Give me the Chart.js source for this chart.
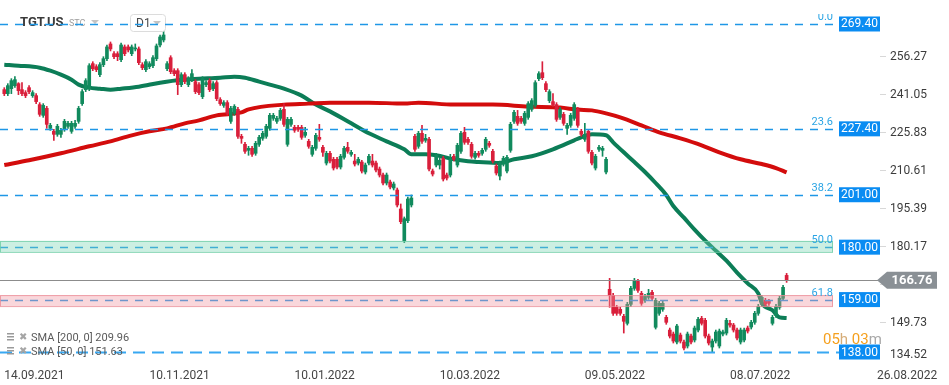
<!DOCTYPE html>
<html><head><meta charset="utf-8">
<script src="https://cdn.jsdelivr.net/npm/chart.js@4.4.1/dist/chart.umd.min.js"></script>
<style>html,body{margin:0;padding:0;background:#fff;}canvas{display:block}</style>
</head><body>
<canvas id="c" width="949" height="385"></canvas>
<script>
// ---- data (TGT.US, D1) ----
const openP = [
243.1,241.5,243.5,244.7,245.5,243.1,241.9,243.9,240.7,240.7,
237.1,232.8,235.6,227.6,226.4,225.2,225.2,227.2,228.4,226.4,
228.4,230.4,237.5,243.1,243.5,253.5,252.3,249.1,253.1,255.5,
261.4,257.5,257.5,255.1,260.2,260.2,257.5,259.4,259.4,253.1,
251.1,252.3,252.7,255.5,261.0,263.0,251.5,255.9,250.7,250.7,
245.1,249.1,245.1,247.1,246.3,245.1,240.3,245.1,246.7,243.5,
245.9,239.1,236.8,237.9,230.4,233.6,235.2,224.4,221.2,218.8,
219.6,217.6,221.2,223.6,224.4,227.6,231.6,230.4,231.6,235.2,
221.2,229.2,228.0,228.0,228.0,224.8,222.4,217.2,219.6,224.0,
220.0,213.7,217.6,215.2,215.2,212.1,216.0,220.0,217.2,214.5,
213.7,214.1,210.1,213.7,214.5,213.7,211.3,208.9,205.7,206.1,
203.7,202.9,195.3,182.6,190.6,196.9,224.4,220.4,225.6,222.8,
223.2,210.5,212.9,212.9,215.6,208.9,208.9,216.4,212.9,218.4,
226.0,223.2,221.2,216.0,217.6,217.6,219.2,221.6,218.4,212.5,
208.5,213.3,210.5,218.8,230.4,232.4,231.6,229.6,232.0,235.2,
236.8,247.5,249.9,245.5,238.7,238.3,237.1,232.0,233.2,227.6,
228.8,231.6,235.2,226.4,223.2,226.4,218.0,211.7,219.2,218.8,
210.1,163.1,160.7,155.9,155.1,152.3,149.5,157.1,163.5,166.3,
161.5,158.7,159.9,161.9,147.9,153.5,155.1,151.9,146.8,145.2,
142.0,144.8,142.0,140.4,144.4,142.8,146.8,151.5,150.7,144.4,
140.0,142.4,140.4,145.2,145.6,149.5,148.8,146.8,142.0,142.8,
147.6,148.0,149.9,153.5,157.1,158.7,158.3,149.5,152.7,155.9,
159.5,168.7];
const highP = [
243.9,245.5,247.5,248.3,245.9,245.9,242.7,244.7,242.7,241.5,
237.9,237.5,236.4,229.6,227.2,229.2,227.6,231.2,230.4,230.4,
230.8,236.4,243.1,247.5,253.5,254.3,253.1,253.9,256.3,261.0,
262.2,258.3,258.3,261.8,261.0,261.0,261.0,261.4,260.2,253.9,
255.1,254.3,256.7,261.4,265.0,269.4,254.3,256.7,251.5,251.5,
249.9,249.9,248.3,251.1,247.1,245.9,248.3,246.7,247.5,246.3,
246.7,239.9,238.7,238.7,236.4,237.1,236.0,225.2,222.0,220.4,
220.4,222.4,224.8,226.4,229.2,233.6,233.6,232.4,235.6,237.5,
232.0,232.0,228.8,228.8,228.8,228.0,223.2,220.8,225.6,229.2,
220.8,218.4,218.4,216.0,216.0,217.2,220.4,222.0,218.8,217.2,
216.0,214.8,213.7,217.2,217.2,214.5,212.1,209.7,209.7,206.9,
206.1,203.7,197.3,192.1,200.1,200.9,225.2,226.4,228.8,225.2,
224.0,211.3,217.6,215.6,216.4,209.7,217.2,217.2,221.6,226.4,
228.0,224.0,222.0,218.4,218.4,219.6,224.0,222.4,219.2,213.3,
214.5,216.4,216.8,230.0,234.8,234.8,232.4,234.4,238.3,239.5,
246.7,250.3,254.3,246.3,243.1,241.5,237.9,236.0,234.0,229.6,
233.6,237.9,236.0,227.2,229.6,227.2,218.8,217.2,220.8,220.4,
216.0,167.5,161.5,156.7,155.9,153.1,157.9,164.3,167.5,167.1,
162.3,161.1,163.1,162.7,159.5,158.3,158.3,152.7,147.6,146.0,
149.1,145.6,142.8,146.0,145.2,148.4,151.9,152.3,151.5,145.2,
143.2,146.8,147.2,146.8,151.5,150.7,149.5,147.6,147.6,147.6,
148.4,150.7,154.3,157.1,160.7,159.5,159.1,152.7,157.1,160.3,
164.7,169.5];
const lowP = [
240.7,240.7,241.5,244.0,241.1,240.7,239.9,241.5,240.0,237.5,
232.4,232.0,227.6,226.8,222.8,224.4,224.0,226.4,227.6,225.6,
227.6,229.6,236.8,242.3,242.7,250.7,250.3,248.3,252.3,254.7,
258.6,255.5,254.7,254.3,256.7,258.2,256.7,258.6,253.1,251.1,
250.3,251.5,251.9,254.7,260.2,262.2,250.7,249.5,248.7,241.1,
244.3,245.5,244.3,246.3,241.5,241.1,239.5,244.3,242.3,242.7,
238.7,236.8,236.0,232.8,229.6,232.8,223.6,221.6,217.6,216.8,
216.4,216.8,220.4,222.8,223.6,226.8,230.8,229.6,230.8,228.4,
220.4,228.4,226.0,226.4,223.2,224.0,219.6,216.4,218.8,222.4,
216.4,212.9,213.7,210.9,211.3,211.3,215.2,217.6,216.4,212.5,
212.9,209.7,209.3,212.9,212.1,210.1,208.1,204.9,204.9,203.3,
202.9,196.1,189.4,181.8,189.8,196.1,218.4,219.6,221.6,222.0,
210.5,208.5,212.1,211.3,206.5,206.9,208.1,214.5,212.1,217.6,
221.2,221.2,215.6,215.2,216.0,216.8,218.4,220.0,213.7,208.9,
206.9,212.5,209.7,218.0,229.6,228.8,229.6,228.8,231.2,234.4,
236.0,246.7,247.1,242.3,237.9,236.4,230.4,231.2,228.8,225.2,
228.0,230.8,228.0,224.4,222.4,217.6,212.9,210.9,218.4,216.4,
209.3,155.9,152.7,152.7,152.7,145.6,148.8,156.3,162.7,161.9,
156.7,157.9,159.1,158.7,147.2,152.7,154.3,149.1,143.6,141.6,
141.2,141.6,138.8,139.6,141.2,142.0,146.0,148.8,143.6,140.8,
138.0,141.6,139.6,144.4,144.8,148.0,146.0,142.8,141.2,142.0,
145.6,147.2,149.1,152.7,156.3,156.3,156.7,148.8,151.9,155.1,
158.7,165.9];
const closeP = [
241.5,244.7,246.7,247.1,242.7,241.5,240.7,242.3,241.9,238.3,
233.2,236.8,229.2,228.8,225.2,228.4,226.8,230.4,229.6,229.6,
229.6,235.6,242.3,246.7,252.7,251.5,251.1,253.1,255.5,260.2,
259.4,256.3,256.3,261.0,257.5,259.0,260.2,259.8,253.9,251.9,
254.3,253.5,255.9,260.6,264.2,265.0,253.5,250.3,249.5,245.1,
249.1,246.3,247.5,249.5,242.3,241.9,247.5,245.9,243.1,245.5,
239.5,237.5,237.9,233.6,235.6,236.4,224.4,223.6,218.4,219.6,
217.2,221.6,224.0,225.6,228.4,232.8,232.8,231.6,234.8,229.2,
231.2,231.2,226.8,227.2,224.0,226.0,220.4,220.0,224.8,223.2,
218.0,217.6,214.5,211.7,212.1,216.4,219.6,218.4,218.0,213.3,
215.2,210.5,212.9,216.4,212.9,210.9,208.9,205.7,208.9,204.1,
205.3,196.9,190.2,191.4,199.3,199.7,219.2,225.6,222.4,223.6,
211.3,209.3,216.8,214.8,207.3,207.7,215.2,215.2,220.8,225.6,
222.0,222.0,216.4,217.6,216.8,218.8,223.2,220.8,214.5,209.7,
213.7,215.6,216.0,229.2,234.0,229.6,230.4,233.6,237.5,238.7,
245.9,249.5,247.9,243.1,242.3,237.1,231.2,235.2,229.6,228.8,
232.8,237.1,228.8,225.2,225.2,218.4,213.7,216.4,220.0,219.6,
215.2,160.7,153.5,153.5,153.5,150.3,157.1,163.5,166.7,162.7,
157.5,160.3,161.5,159.5,158.7,157.5,157.5,149.9,144.4,142.4,
148.4,142.4,139.6,145.2,142.0,147.6,151.1,149.5,144.4,141.6,
142.4,146.0,146.4,146.0,150.7,148.8,146.8,143.6,146.8,146.8,
146.4,149.9,153.5,156.3,159.9,157.1,157.5,151.9,156.3,159.5,
163.9,166.76];

const sma200Idx = [0,7,16,24,30,36,41,46,51,55,60,67,69,79,86,92,103,113,117,127,138,148,157,162,166,170,174,180,185,191,197,202,208,214,218,221];
const sma200 = [212.9,214.8,217.6,220.4,222.4,224.8,226.4,227.6,229.6,230.8,232.8,234.0,235.2,237.1,237.5,237.9,237.9,237.5,237.9,237.1,237.1,236.3,235.9,235.1,234.8,233.6,232.0,228.8,226.0,223.6,220.8,218.0,215.2,213.3,211.7,209.96];
const sma50Idx = [0,4,10,13,16,19,21,24,27,30,33,38,44,50,55,61,65,68,72,75,79,84,88,92,98,103,108,113,115,119,122,127,131,134,140,144,149,155,161,163,166,170,172,175,178,181,184,187,189,192,195,198,201,204,207,210,213,214,217,219,221];
const sma50 = [253.1,252.7,251.9,250.7,249.1,247.1,245.1,243.9,243.5,243.1,243.5,244.3,245.9,247.1,247.5,247.9,248.3,247.9,246.3,245.1,243.5,240.7,237.1,234.4,229.6,225.6,222.4,219.2,217.2,217.2,216.8,215.2,214.4,214.1,213.7,215.2,216.4,219.2,222.8,224.0,225.2,224.8,222.0,218.0,214.1,210.1,205.7,200.9,196.5,191.8,187.0,182.6,178.6,174.6,169.8,165.5,161.5,157.5,154.7,151.9,151.63];

const xTickIdx = [0,41,82,123,164,205,246.5];
const xTickLabels = ['14.09.2021','10.11.2021','10.01.2022','10.03.2022','09.05.2022','08.07.2022','26.08.2022'];
const yTickValues = [256.27,241.05,225.83,210.61,195.39,180.17,164.95,149.73,134.52];
const levelPrices = [269.40,227.40,201.00,180.00,159.00,138.00];
const levelFibs = ['0.0','23.6','38.2','50.0','61.8',''];
const greenZone = [178.1,182.5];
const redZone = [156.4,160.8];
const lastPrice = 166.76;
const legendRows = ['SMA [200, 0] 209.96','SMA [50, 0] 151.63'];

// ---- chart ----
const GREEN = '#118a5d', RED = '#d91f3b';
const candleColors = openP.map((o,i)=> closeP[i] >= o ? GREEN : RED);
const bodies = openP.map((o,i)=>({x:i, y:[o, closeP[i]]}));
const wicks = openP.map((o,i)=>({x:i, y:[lowP[i], highP[i]]}));

Chart.defaults.font.family = 'Roboto';

const overlay = {
  id:'overlay',
  afterDatasetsDraw(chart){
    const {ctx, scales:{x, y}} = chart;
    ctx.save();
    // header
    ctx.fillStyle = '#fff';
    ctx.strokeStyle = '#dcdcdc'; ctx.lineWidth = 1;
    ctx.beginPath(); ctx.roundRect(130.5,14.5,35,17,3); ctx.fill(); ctx.stroke();
    ctx.textBaseline = 'middle'; ctx.textAlign = 'left';
    ctx.fillStyle = '#4a4a4a'; ctx.font = '12px Roboto';
    ctx.fillText('D1', 136, 23.5);
    ctx.fillStyle = '#c4c4c4';
    ctx.beginPath(); ctx.moveTo(153,21); ctx.lineTo(161,21); ctx.lineTo(157,25); ctx.closePath(); ctx.fill();
    ctx.fillStyle = '#3a3a3a'; ctx.font = 'bold 13px Roboto';
    ctx.fillText('TGT.US', 20, 22.5);
    ctx.fillStyle = '#a0a0a0'; ctx.font = '9px Roboto';
    ctx.fillText('STC', 69, 24);
    ctx.fillStyle = '#c4c4c4';
    ctx.beginPath(); ctx.moveTo(91,20); ctx.lineTo(99,20); ctx.lineTo(95,24); ctx.closePath(); ctx.fill();

    // fibonacci dashed levels
    levelPrices.forEach((p,i)=>{
      const py = Math.round(y.getPixelForValue(p)) + 0.5;
      ctx.beginPath();
      if (i === levelPrices.length-1) { ctx.setLineDash([12,7]); ctx.lineWidth = 2; ctx.strokeStyle = '#38a8f2'; }
      else { ctx.setLineDash([8,7]); ctx.lineWidth = 1.5; ctx.strokeStyle = '#1f97e6'; }
      ctx.moveTo(0, py); ctx.lineTo(839, py); ctx.stroke();
    });
    ctx.setLineDash([]);

    // zones
    const band = (z, fill, stroke) => {
      const t = y.getPixelForValue(z[1]), b = y.getPixelForValue(z[0]);
      ctx.fillStyle = fill; ctx.fillRect(0, t, 833, b - t);
      ctx.strokeStyle = stroke; ctx.lineWidth = 1; ctx.strokeRect(0.5, t + 0.5, 832, b - t);
    };
    band(greenZone, 'rgba(120,214,178,0.38)', 'rgba(110,205,165,0.8)');
    band(redZone, 'rgba(240,150,160,0.38)', 'rgba(235,140,150,0.8)');

    // last price line
    const lp = Math.round(y.getPixelForValue(lastPrice)) + 0.5;
    ctx.strokeStyle = '#8c8c8c'; ctx.lineWidth = 1;
    ctx.beginPath(); ctx.moveTo(0, lp); ctx.lineTo(878, lp); ctx.stroke();

    // fib labels (clipped at the top like the original panel)
    ctx.save();
    ctx.beginPath(); ctx.rect(0, 14, 949, 371); ctx.clip();
    ctx.font = '11px Roboto'; ctx.textAlign = 'right'; ctx.textBaseline = 'alphabetic';
    ctx.fillStyle = '#2aa4e4';
    levelPrices.forEach((p,i)=>{
      if (!levelFibs[i]) return;
      ctx.fillText(levelFibs[i], 833, y.getPixelForValue(p) - 4);
    });
    ctx.restore();
    ctx.restore();
  },
  afterDraw(chart){
    const {ctx, scales:{y}} = chart;
    ctx.save();
    ctx.textBaseline = 'middle';
    // y labels
    ctx.font = '12px Roboto'; ctx.textAlign = 'left'; ctx.fillStyle = '#3c3c3c';
    yTickValues.forEach(v=>{
      const py = Math.min(y.getPixelForValue(v), 355);
      ctx.fillText(v.toFixed(2), 890, py);
    });
    // level boxes
    ctx.textAlign = 'center';
    levelPrices.forEach(p=>{
      const py = y.getPixelForValue(p);
      ctx.fillStyle = '#0a8cf2';
      ctx.fillRect(839, py - 7.5, 41, 15);
      ctx.fillStyle = '#fff';
      ctx.fillText(p.toFixed(2), 859.5, py + 0.5);
    });
    // last price tag
    const lp = y.getPixelForValue(lastPrice);
    ctx.fillStyle = '#8a9095';
    ctx.beginPath();
    ctx.moveTo(877, lp); ctx.lineTo(887, lp - 8.5); ctx.lineTo(937, lp - 8.5);
    ctx.lineTo(937, lp + 8.5); ctx.lineTo(887, lp + 8.5); ctx.closePath(); ctx.fill();
    ctx.fillStyle = '#fff'; ctx.font = 'bold 13px Roboto';
    ctx.fillText(lastPrice.toFixed(2), 912, lp + 0.5);

    // countdown
    ctx.font = '15px Roboto'; ctx.textAlign = 'left';
    let cx = 823;
    [['05','#f5a01e'],['h','#d6ad78'],[' 03','#f5a01e'],['m','#a8a8a8']].forEach(([t,c])=>{
      ctx.fillStyle = c; ctx.fillText(t, cx, 340); cx += ctx.measureText(t).width;
    });

    // legend
    legendRows.forEach((t,i)=>{
      const ly = 338 + i*14;
      ctx.fillStyle = '#9a9a9a';
      ctx.fillRect(7, ly - 5, 7, 1.5); ctx.fillRect(7, ly - 2, 7, 1.5); ctx.fillRect(7, ly + 1, 7, 1.5);
      ctx.font = '10px "DejaVu Sans"'; ctx.fillStyle = '#a5a5a5';
      ctx.fillText('\u2716', 19, ly - 1);
      ctx.font = '11px Roboto'; ctx.fillStyle = '#5a5a5a';
      ctx.fillText(t, 31, ly);
    });
    ctx.restore();
  }
};

new Chart(document.getElementById('c'), {
  type: 'bar',
  data: {
    datasets: [
      {type:'bar', label:'wick', data:wicks, backgroundColor:candleColors, barThickness:1, grouped:false, minBarLength:1, order:2},
      {type:'bar', label:'body', data:bodies, backgroundColor:candleColors, barThickness:3, grouped:false, minBarLength:1, order:1},
      {type:'line', label:'SMA 200', data:sma200Idx.map((v,i)=>({x:v, y:sma200[i]})), borderColor:'#d30c0c', borderWidth:4, pointRadius:0, cubicInterpolationMode:'monotone', order:3},
      {type:'line', label:'SMA 50', data:sma50Idx.map((v,i)=>({x:v, y:sma50[i]})), borderColor:'#0c7d57', borderWidth:4, pointRadius:0, cubicInterpolationMode:'monotone', order:3}
    ]
  },
  options: {
    responsive:false, animation:false, events:[],
    layout:{padding:0},
    plugins:{legend:{display:false}, tooltip:{enabled:false}},
    scales:{
      x:{
        type:'linear', min:-1.21, max:247.38, offset:false,
        grid:{display:false, offset:false}, border:{display:false},
        afterFit(s){ s.height = 25; },
        afterBuildTicks(s){ s.ticks = xTickIdx.map(v=>({value:v})); },
        ticks:{
          autoSkip:false, maxRotation:0, minRotation:0, align:'start', padding:1,
          color:'#444', font:{size:12},
          callback(v){ const k = xTickIdx.indexOf(v); return k >= 0 ? xTickLabels[k] : ''; }
        }
      },
      y:{
        type:'linear', position:'right', min:134.80, max:279.01,
        afterFit(s){ s.width = 69; },
        afterBuildTicks(s){ s.ticks = yTickValues.filter(v=>v>135).map(v=>({value:v})); },
        grid:{drawOnChartArea:false, drawTicks:true, tickLength:6, color:'#d8d8d8'},
        border:{display:false},
        ticks:{display:false}
      }
    }
  },
  plugins:[overlay]
});
</script>
</body></html>
